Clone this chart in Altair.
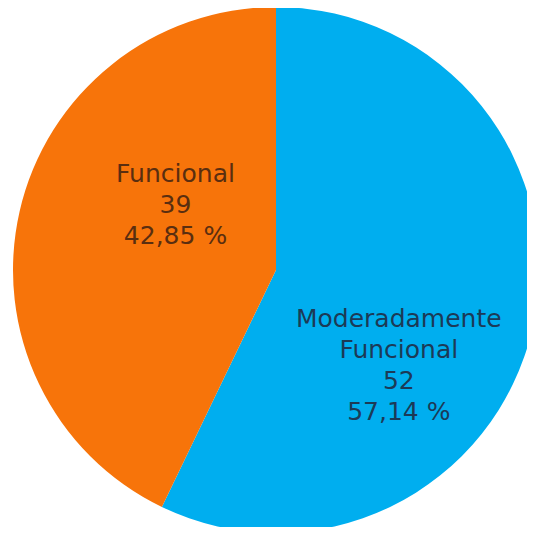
import altair as alt
import pandas as pd

categories = ["Moderadamente Funcional", "Funcional"]
counts = [52, 39]
percent_labels = ["57,14 %", "42,85 %"]
label_names = ["Moderadamente\nFuncional", "Funcional"]
colors = ["#00AEEF", "#F7740A"]

df = pd.DataFrame({
    "categoria": categories,
    "n": counts,
    "idx": list(range(len(categories))),
    "label": [f"{a}\n{b}\n{c}" for a, b, c in zip(label_names, counts, percent_labels)],
})
total = sum(counts)

CX, CY, R = 268, 262, 263

order = alt.Order("idx:Q")

pie = alt.Chart(df).mark_arc(radius=R).encode(
    x=alt.value(CX), y=alt.value(CY),
    theta=alt.Theta("n:Q", stack=True),
    order=order,
    color=alt.Color("categoria:N", scale=alt.Scale(domain=categories, range=colors), legend=None),
)

base_text = alt.Chart(df).transform_window(
    cum="sum(n)", sort=[alt.SortField("idx")]
).transform_calculate(
    mid="datum.cum - datum.n / 2"
).encode(
    x=alt.value(CX), y=alt.value(CY),
    theta=alt.Theta("mid:Q", scale=alt.Scale(domain=[0, total])),
    text="label:N",
)

text_blue = base_text.transform_filter(alt.datum.idx == 0).mark_text(
    radius=128, dx=-2, dy=20.5, fontSize=25, font="DejaVu Sans", lineBreak="\n",
    lineHeight=31, color="#1C3A57", align="center", baseline="middle",
)
text_orange = base_text.transform_filter(alt.datum.idx == 1).mark_text(
    radius=100, dx=-3, dy=-73.5, fontSize=25, font="DejaVu Sans", lineBreak="\n",
    lineHeight=31, color="#5A2E10", align="center", baseline="middle",
)

chart = alt.layer(pie, text_blue, text_orange).resolve_scale(theta="independent").properties(
    width=519, height=519, padding=0, autosize=alt.AutoSizeParams(type="none")
).configure_view(stroke=None)

chart.save("out.html", embed_options={"renderer": "svg", "actions": False})
